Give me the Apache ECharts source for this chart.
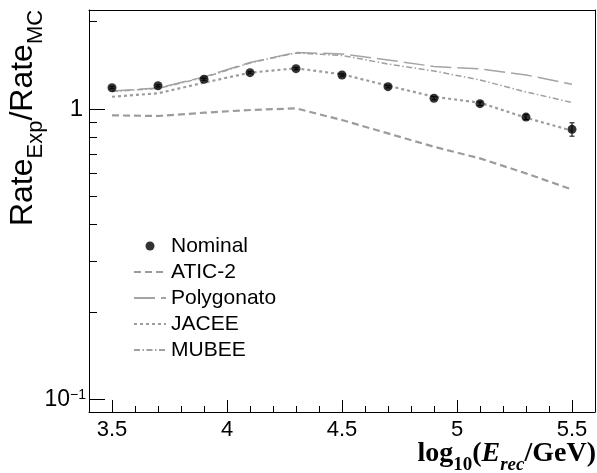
<!DOCTYPE html>
<html><head><meta charset="utf-8">
<script src="https://cdn.jsdelivr.net/npm/echarts@6/dist/echarts.min.js"></script>
<style>html,body{margin:0;padding:0;background:#fff}#c{width:597px;height:473px}</style>
</head><body><div id="c"></div>
<script>
// ---- data ----
const energies   = [3.5, 3.7, 3.9, 4.1, 4.3, 4.5, 4.7, 4.9, 5.1, 5.3, 5.5];
const nominal    = [1.184, 1.203, 1.266, 1.334, 1.377, 1.310, 1.194, 1.089, 1.043, 0.938, 0.851];
const nominalErr = [0.010, 0.010, 0.010, 0.011, 0.012, 0.012, 0.012, 0.013, 0.015, 0.018, 0.045];
const atic2      = [0.951, 0.946, 0.971, 0.992, 1.005, 0.916, 0.824, 0.741, 0.676, 0.600, 0.528];
const polygonato = [1.153, 1.181, 1.289, 1.447, 1.566, 1.548, 1.476, 1.401, 1.374, 1.310, 1.217];
const jacee      = [1.102, 1.133, 1.232, 1.334, 1.381, 1.317, 1.203, 1.102, 1.051, 0.933, 0.842];
const mubee      = [1.149, 1.177, 1.284, 1.441, 1.560, 1.529, 1.429, 1.352, 1.259, 1.145, 1.053];

const xMin = 3.4, xMax = 5.6;
const yMin = 0.0904, yMax = 2.193;
const xMajorTicks = [3.5, 4, 4.5, 5, 5.5];
const xMajorLabels = ['3.5', '4', '4.5', '5', '5.5'];
const xMinorTicks = [3.6, 3.7, 3.8, 3.9, 4.1, 4.2, 4.3, 4.4, 4.6, 4.7, 4.8, 4.9, 5.1, 5.2, 5.3, 5.4];
const yMajorTicks = [0.1, 1];
const yMajorLabels = ['{m|10}{sup|\u22121}', '{one|1}'];
const yMinorTicks = [0.2, 0.3, 0.4, 0.5, 0.6, 0.7, 0.8, 0.9, 2];
const legendNames = ['Nominal', 'ATIC-2', 'Polygonato', 'JACEE', 'MUBEE'];

const pairs = arr => energies.map((x, i) => [x, arr[i]]);
const L = v => Math.log10(v);

const chart = echarts.init(document.getElementById('c'), null, {renderer: 'canvas'});
const frameLine = {show: true, onZero: false, lineStyle: {color: '#000', width: 1}};
const noLine = {show: false, onZero: false};
const none = {show: false};

const option = {
  animation: false,
  backgroundColor: '#fff',
  grid: {left: 89, right: 2, top: 10, bottom: 61, containLabel: false},
  xAxis: [
    {type: 'value', position: 'bottom', min: xMin, max: xMax,
     axisLine: frameLine,
     axisTick: {show: true, inside: true, length: 12, customValues: xMajorTicks, lineStyle: {color: '#000'}},
     axisLabel: {show: true, customValues: xMajorTicks, margin: 7, color: '#000', fontSize: 22, fontFamily: 'Liberation Sans',
       formatter: v => { const i = xMajorTicks.findIndex(t => Math.abs(t - v) < 1e-6); return i >= 0 ? xMajorLabels[i] : ''; }},
     splitLine: none},
    {type: 'value', position: 'bottom', min: xMin, max: xMax,
     axisLine: noLine,
     axisTick: {show: true, inside: true, length: 6, customValues: xMinorTicks, lineStyle: {color: '#000'}},
     axisLabel: none, splitLine: none},
    {type: 'value', position: 'top', min: xMin, max: xMax,
     axisLine: frameLine, axisTick: none, axisLabel: none, splitLine: none}
  ],
  yAxis: [
    {type: 'log', logBase: 10, position: 'left', min: yMin, max: yMax,
     axisLine: frameLine, axisTick: none, axisLabel: none, splitLine: none},
    {type: 'value', position: 'left', min: L(yMin), max: L(yMax),
     axisLine: noLine,
     axisTick: {show: true, inside: true, length: 16, customValues: yMajorTicks.map(L), lineStyle: {color: '#000'}},
     axisLabel: {show: true, customValues: yMajorTicks.map(L), margin: 3, color: '#000',
       formatter: v => { const i = yMajorTicks.findIndex(t => Math.abs(L(t) - v) < 1e-6); return i >= 0 ? yMajorLabels[i] : ''; },
       rich: {
         m: {fontSize: 23, fontFamily: 'Liberation Sans', color: '#000', verticalAlign: 'bottom'},
         sup: {fontSize: 14, fontFamily: 'Liberation Sans', color: '#000', verticalAlign: 'top'},
         one: {fontSize: 24, fontFamily: 'Liberation Sans', color: '#000', padding: [0, 3, 0, 0]}
       }},
     splitLine: none},
    {type: 'value', position: 'left', min: L(yMin), max: L(yMax),
     axisLine: noLine,
     axisTick: {show: true, inside: true, length: 8, customValues: yMinorTicks.map(L), lineStyle: {color: '#000'}},
     axisLabel: none, splitLine: none},
    {type: 'value', position: 'right', min: L(yMin), max: L(yMax),
     axisLine: frameLine, axisTick: none, axisLabel: none, splitLine: none}
  ],
  legend: {
    orient: 'vertical', left: 128, top: 230,
    itemWidth: 32, itemHeight: 9, itemGap: 4,
    textStyle: {fontSize: 21, fontFamily: 'Liberation Sans', color: '#000', lineHeight: 22, padding: [0, 0, 0, 0]},
    data: [
      {name: legendNames[0], icon: 'circle'},
      {name: legendNames[1], itemStyle: {opacity: 0}},
      {name: legendNames[2], itemStyle: {opacity: 0}},
      {name: legendNames[3], itemStyle: {opacity: 0}},
      {name: legendNames[4], itemStyle: {opacity: 0}}
    ]
  },
  series: [
    {name: legendNames[1], type: 'line', data: pairs(atic2), symbol: 'none', z: 2,
     lineStyle: {color: '#9c9c9c', width: 2.2, type: [7, 4]}, itemStyle: {color: '#9c9c9c'}},
    {name: legendNames[2], type: 'line', data: pairs(polygonato), symbol: 'none', z: 2,
     lineStyle: {color: '#a4a4a4', width: 1.5, type: [21, 6]}, itemStyle: {color: '#a4a4a4'}},
    {name: legendNames[3], type: 'line', data: pairs(jacee), symbol: 'none', z: 2,
     lineStyle: {color: '#9c9c9c', width: 2.2, type: [3, 3]}, itemStyle: {color: '#9c9c9c'}},
    {name: legendNames[4], type: 'line', data: pairs(mubee), symbol: 'none', z: 2,
     lineStyle: {color: '#a0a0a0', width: 1.5, type: [6, 2.5, 1.5, 2.5]}, itemStyle: {color: '#a0a0a0'}},
    {name: 'errors', type: 'custom', z: 4,
     data: energies.map((x, i) => [x, nominal[i] - nominalErr[i], nominal[i] + nominalErr[i]]),
     encode: {x: 0, y: [1, 2]},
     renderItem: (params, api) => {
       const lo = api.coord([api.value(0), api.value(1)]);
       const hi = api.coord([api.value(0), api.value(2)]);
       const st = {stroke: '#000', lineWidth: 1};
       return {type: 'group', children: [
         {type: 'line', shape: {x1: lo[0], y1: lo[1], x2: hi[0], y2: hi[1]}, style: st},
         {type: 'line', shape: {x1: lo[0] - 2.5, y1: lo[1], x2: lo[0] + 2.5, y2: lo[1]}, style: st},
         {type: 'line', shape: {x1: hi[0] - 2.5, y1: hi[1], x2: hi[0] + 2.5, y2: hi[1]}, style: st}
       ]};
     }},
    {name: legendNames[0], type: 'scatter', data: pairs(nominal), symbol: 'circle', symbolSize: 9, z: 5,
     itemStyle: {color: '#000'}}
  ],
  graphic: [
    {type: 'text', x: 27, y: 118, rotation: Math.PI / 2,
     style: {text: '{m|Rate}{s|Exp}{m|/Rate}{s|MC}', align: 'center', verticalAlign: 'middle',
       rich: {
         m: {fontSize: 32, fontFamily: 'Liberation Sans', fill: '#000', verticalAlign: 'bottom', padding: [0, 0, 7, 0]},
         s: {fontSize: 22, fontFamily: 'Liberation Sans', fill: '#000', verticalAlign: 'bottom'}
       }}},
    {type: 'text', right: 1, top: 440,
     style: {text: '{b|log}{bs|10}{b|(}{bi|E}{bis|rec}{b|/GeV)}',
       rich: {
         b: {fontSize: 28, fontFamily: 'Liberation Serif', fontWeight: 'bold', fill: '#000', verticalAlign: 'bottom', padding: [0, 0, 7, 0]},
         bs: {fontSize: 19, fontFamily: 'Liberation Serif', fontWeight: 'bold', fill: '#000', verticalAlign: 'bottom'},
         bi: {fontSize: 28, fontFamily: 'Liberation Serif', fontWeight: 'bold', fontStyle: 'italic', fill: '#000', verticalAlign: 'bottom', padding: [0, 0, 7, 0]},
         bis: {fontSize: 19, fontFamily: 'Liberation Serif', fontWeight: 'bold', fontStyle: 'italic', fill: '#000', verticalAlign: 'bottom'}
       }}}
  ]
};
chart.setOption(option);
</script>
</body></html>
